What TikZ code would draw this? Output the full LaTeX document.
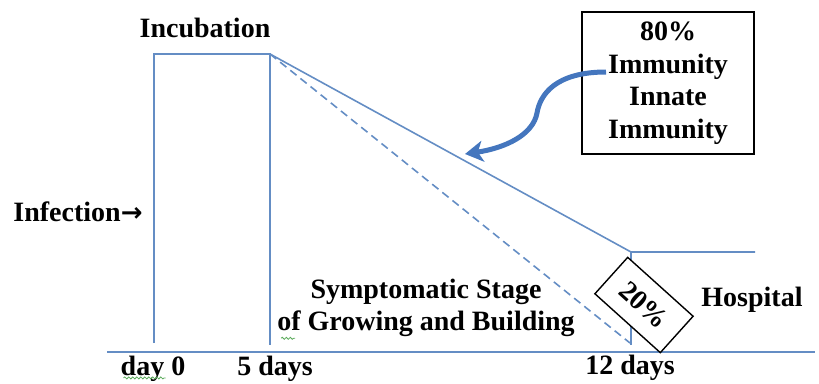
\documentclass[tikz,border=0pt]{standalone}
\usepackage{fontspec}
\setmainfont{Liberation Serif}
\newfontfamily\arrowfont{DejaVu Sans}
\usetikzlibrary{arrows.meta, calc, decorations.pathmorphing}
\definecolor{stageline}{RGB}{100,141,196}
\definecolor{immcol}{RGB}{68,118,190}
\definecolor{spellgreen}{RGB}{90,170,90}

\begin{document}
\begin{tikzpicture}[x=1pt, y=-1pt, >={Stealth[length=18pt,width=21pt,inset=5pt]},
  every node/.style={font=\fontsize{28}{32.5}\selectfont\bfseries, inner sep=0pt},
  stage/.style={draw=stageline, line width=1.6pt},
  pctbox/.style={draw=black, line width=1.4pt, fill=white, align=center},
  squiggle/.style={draw=spellgreen, line width=0.8pt, decorate,
    decoration={snake, amplitude=1pt, segment length=4pt}}]
\useasboundingbox (0,0) rectangle (819,383);
\node at (205, 28) (incub) {Incubation};
\node at (78, 212) (infect) {Infection{\arrowfont\fontsize{26}{30}\selectfont→}};
\node at (426, 308) [align=center] (sympt) {Symptomatic Stage\\of Growing and Building};
\node at (752, 300) (hosp) {Hospital};
\node at (153, 369) (day0) {day 0};
\node at (275, 369) (day5) {5 days};
\node at (630, 368) (day12) {12 days};
\coordinate (d0bot) at (154, 343);
\coordinate (d0top) at (154, 54);
\coordinate (d5top) at (270, 54);
\coordinate (d5bot) at (270, 345);
\coordinate (peak) at (631, 252);
\coordinate (hospend) at (755, 252);
\coordinate (d12bot) at (631, 345);
\coordinate (dashend) at (630, 343);
\coordinate (axisL) at (107, 352);
\coordinate (axisR) at (815, 352);
\draw[stage] (d0bot) -- (d0top) -- (d5top) -- (d5bot);
\draw[stage] (d5top) -- (peak) -- (hospend);
\path (peak) edge[stage] (d12bot);
\path (d5top) edge[stage, dash pattern=on 8pt off 5pt] (dashend);
\path (axisL) edge[stage] (axisR);
\node at (644, 305) [pctbox, rotate=-42, minimum width=88pt, minimum height=49pt] (hospbox) {20\%};
\node at (668, 83) [pctbox, minimum width=172pt, minimum height=142pt] (immbox) {80\%\\Immunity\\Innate\\Immunity};
\coordinate (arrstart) at (606, 72);
\coordinate (arrtip) at (465, 154);
\draw[immcol, line width=5pt, ->] (arrstart) .. controls (555, 72) and (540, 95) .. (537, 113)
  .. controls (533, 135) and (505, 148) .. (arrtip);
\draw[squiggle] ($(day0.south west)+(3,-4)$) -- ++(42, 0);
\draw[squiggle] ($(sympt.south west)+(4,1)$) -- ++(14, 0);
\end{tikzpicture}
\end{document}
